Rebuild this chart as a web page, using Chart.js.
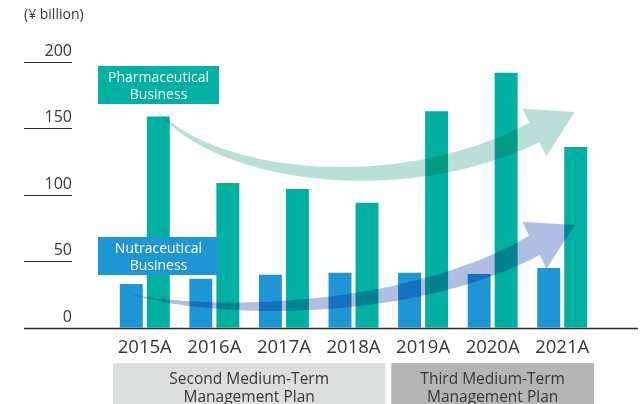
<!DOCTYPE html>
<html>
<head>
<meta charset="utf-8">
<script src="https://cdn.jsdelivr.net/npm/chart.js@4.4.1/dist/chart.umd.min.js"></script>
<style>
  html, body { margin: 0; padding: 0; background: #fff; }
  .chart-area { width: 644px; height: 404px; position: relative; }
</style>
</head>
<body>
<div class="chart-area"><canvas id="myChart"></canvas></div>
<script>
// fiscal years on the x axis
const years = ['2015A', '2016A', '2017A', '2018A', '2019A', '2020A', '2021A'];

// revenue by business, ¥ billion
const nutraceutical = [33, 37, 40, 41.5, 41.5, 40.5, 45];
const pharmaceutical = [159, 109, 104.5, 94, 163, 192, 136];

// y axis ticks and unit
const yTicks = [0, 50, 100, 150, 200];
const unitLabel = '(¥ billion)';

// medium-term plans under the years
const planNames = [['Second Medium-Term', 'Management Plan'], ['Third Medium-Term', 'Management Plan']];
const planFirstYear = [0, 4];
const planLastYear = [3, 6];

const FONT = '"Open Sans", "Noto Sans", sans-serif';
const TEXT = '#3a3737';
const BLUE = '#1e96d4';
const GREEN = '#00b0a0';

// trend arrows, anchored in (category index, value) so they follow the scales
const arrows = [
  { color: 'rgb(185, 223, 215)', path: [[0.17, 164], [1.03, 112], [3.69, 96], [5.6, 147]], tip: [6.18, 162.4] },
  { color: 'rgb(176, 190, 228)', path: [[-0.19, 25], [1.25, 7.5], [3.95, 13.5], [5.6, 62]], tip: [6.18, 77.4] }
];

// label boxes for each business
const boxes = [
  { lines: ['Pharmaceutical', 'Business'], color: GREEN, x: 98, y: 66, w: 121, h: 38 },
  { lines: ['Nutraceutical', 'Business'], color: BLUE, x: 98, y: 237, w: 121, h: 38 }
];

function drawArrow(ctx, xs, ys, a) {
  const p = a.path.map(([i, v]) => [xs.getPixelForValue(i), ys.getPixelForValue(v)]);
  const tip = [xs.getPixelForValue(a.tip[0]), ys.getPixelForValue(a.tip[1])];
  const shaft = 22, head = 53;
  const left = [], right = [];
  const n = 80;
  for (let k = 0; k <= n; k++) {
    const t = k / n, u = 1 - t;
    const px = u*u*u*p[0][0] + 3*u*u*t*p[1][0] + 3*u*t*t*p[2][0] + t*t*t*p[3][0];
    const py = u*u*u*p[0][1] + 3*u*u*t*p[1][1] + 3*u*t*t*p[2][1] + t*t*t*p[3][1];
    const dx = 3*u*u*(p[1][0]-p[0][0]) + 6*u*t*(p[2][0]-p[1][0]) + 3*t*t*(p[3][0]-p[2][0]);
    const dy = 3*u*u*(p[1][1]-p[0][1]) + 6*u*t*(p[2][1]-p[1][1]) + 3*t*t*(p[3][1]-p[2][1]);
    const len = Math.hypot(dx, dy) || 1;
    const nx = -dy / len, ny = dx / len;
    const w = shaft * Math.pow(t, 0.85) / 2;
    left.push([px + nx*w, py + ny*w]);
    right.push([px - nx*w, py - ny*w]);
  }
  const ddx = tip[0] - p[3][0], ddy = tip[1] - p[3][1];
  const dl = Math.hypot(ddx, ddy);
  const hx = -ddy / dl * head / 2, hy = ddx / dl * head / 2;

  ctx.beginPath();
  ctx.moveTo(left[0][0], left[0][1]);
  left.forEach(pt => ctx.lineTo(pt[0], pt[1]));
  ctx.lineTo(p[3][0] + hx, p[3][1] + hy);
  ctx.lineTo(tip[0], tip[1]);
  ctx.lineTo(p[3][0] - hx, p[3][1] - hy);
  for (let k = right.length - 1; k >= 0; k--) ctx.lineTo(right[k][0], right[k][1]);
  ctx.closePath();
  ctx.fillStyle = a.color;
  ctx.fill();
}

const extras = {
  id: 'extras',
  beforeDraw(chart) {
    const ctx = chart.ctx;
    ctx.save();
    ctx.fillStyle = '#ffffff';
    ctx.fillRect(0, 0, chart.width, chart.height);
    ctx.restore();
  },
  afterDatasetsDraw(chart) {
    const { ctx, scales: { x, y } } = chart;
    ctx.save();
    ctx.globalCompositeOperation = 'multiply';
    arrows.forEach(a => drawArrow(ctx, x, y, a));
    ctx.restore();
  },
  afterDraw(chart) {
    const { ctx, scales: { x, y } } = chart;
    ctx.save();

    // unit
    ctx.fillStyle = TEXT;
    ctx.font = '14px ' + FONT;
    ctx.textAlign = 'left';
    ctx.textBaseline = 'middle';
    ctx.fillText(unitLabel, 24, 15);

    // y ticks: short rules with the value above, long rule at zero
    ctx.font = '16px ' + FONT;
    ctx.textAlign = 'right';
    ctx.textBaseline = 'alphabetic';
    ctx.strokeStyle = '#2b2b2b';
    yTicks.forEach(v => {
      const py = Math.round(y.getPixelForValue(v)) + 0.5;
      ctx.fillText(String(v), 72, py - 7);
      ctx.lineWidth = v === 0 ? 1.6 : 1.2;
      ctx.beginPath();
      ctx.moveTo(24, py);
      ctx.lineTo(v === 0 ? 638 : 72, py);
      ctx.stroke();
    });

    // business label boxes
    boxes.forEach(b => {
      ctx.fillStyle = b.color;
      ctx.fillRect(b.x, b.y, b.w, b.h);
      ctx.fillStyle = '#ffffff';
      ctx.font = '14px ' + FONT;
      ctx.textAlign = 'center';
      ctx.textBaseline = 'alphabetic';
      ctx.fillText(b.lines[0], b.x + b.w / 2, b.y + 16);
      ctx.fillText(b.lines[1], b.x + b.w / 2, b.y + 33);
    });

    // plan boxes under the years
    const catW = x.width / years.length;
    planNames.forEach((lines, k) => {
      const x0 = x.getPixelForValue(planFirstYear[k]) - catW / 2 + 3;
      const x1 = x.getPixelForValue(planLastYear[k]) + catW / 2 - 3;
      ctx.fillStyle = k === 0 ? '#dcdddd' : '#b5b5b6';
      ctx.fillRect(x0, 363, x1 - x0, chart.height - 363);
      ctx.fillStyle = TEXT;
      ctx.font = '15.5px ' + FONT;
      ctx.textAlign = 'center';
      ctx.textBaseline = 'middle';
      ctx.fillText(lines[0], (x0 + x1) / 2, 380);
      ctx.fillText(lines[1], (x0 + x1) / 2, 398);
    });
    ctx.restore();
  }
};

const ctx = document.getElementById('myChart');
new Chart(ctx, {
  type: 'bar',
  data: {
    labels: years,
    datasets: [
      { label: 'Nutraceutical Business', data: nutraceutical, backgroundColor: BLUE },
      { label: 'Pharmaceutical Business', data: pharmaceutical, backgroundColor: GREEN }
    ]
  },
  options: {
    responsive: true,
    maintainAspectRatio: false,
    animation: false,
    devicePixelRatio: 1,
    categoryPercentage: 0.776,
    barPercentage: 0.85,
    layout: { padding: { left: 110, right: 47, top: 62, bottom: 36 } },
    scales: {
      x: {
        grid: { display: false, drawTicks: false },
        border: { display: false },
        ticks: { color: TEXT, padding: 9, font: { family: FONT, size: 18.5 } }
      },
      y: {
        display: false,
        min: 0,
        max: 200
      }
    },
    plugins: {
      legend: { display: false },
      tooltip: { enabled: false }
    }
  },
  plugins: [extras]
});
</script>
</body>
</html>
